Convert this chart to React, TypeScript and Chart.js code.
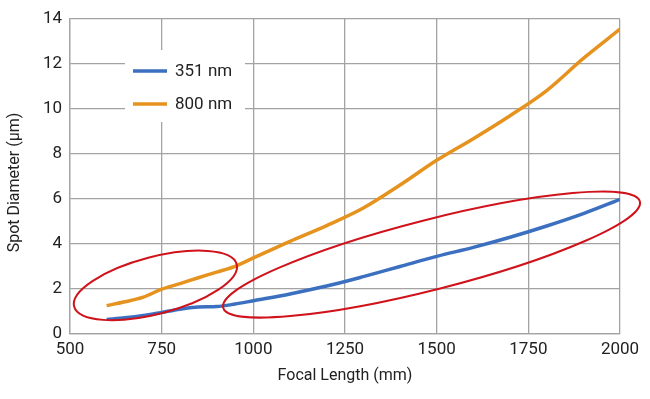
import { useEffect, useRef } from "react";
import { Chart, registerables } from "chart.js";

Chart.register(...registerables);

const focalLengths = [600, 650, 700, 750, 800, 850, 900, 950, 1000, 1100, 1200, 1300, 1400, 1500, 1600, 1700, 1800, 1900, 2000];
const spot351 = [0.65, 0.72, 0.82, 0.96, 1.1, 1.2, 1.22, 1.33, 1.48, 1.78, 2.13, 2.55, 3.0, 3.45, 3.85, 4.3, 4.8, 5.35, 5.98];
const spot800 = [1.26, 1.43, 1.64, 1.99, 2.24, 2.5, 2.75, 3.01, 3.38, 4.12, 4.82, 5.6, 6.62, 7.72, 8.68, 9.7, 10.82, 12.25, 13.55];
const seriesLabels = ["351 nm", "800 nm"];
const seriesColors = ["#3b6fbf", "#e6921e"];
const yAxisTitle = "Spot Diameter (µm)";
const xAxisTitle = "Focal Length (mm)";

// annotation ellipses: centre in data units, semi-axes in px, tilt in degrees
const ellipseCentersX = [733, 1486];
const ellipseCentersY = [2.16, 3.53];
const ellipseRadiiA = [84, 215];
const ellipseRadiiB = [28.5, 35];
const ellipseTilts = [14.6, 14.3];

const FONT = "Roboto, 'Liberation Sans', sans-serif";

const ellipsePlugin = {
  id: "ellipses",
  afterDatasetsDraw(chart: any) {
    const { ctx, scales } = chart;
    ctx.save();
    ctx.strokeStyle = "#d0121b";
    ctx.lineWidth = 2;
    for (let i = 0; i < ellipseCentersX.length; i++) {
      const cx = scales.x.getPixelForValue(ellipseCentersX[i]);
      const cy = scales.y.getPixelForValue(ellipseCentersY[i]);
      ctx.beginPath();
      ctx.ellipse(cx, cy, ellipseRadiiA[i], ellipseRadiiB[i], (-ellipseTilts[i] * Math.PI) / 180, 0, Math.PI * 2);
      ctx.stroke();
    }
    ctx.restore();
  },
};

const legendPlugin = {
  id: "innerLegend",
  afterDraw(chart: any) {
    const { ctx, chartArea } = chart;
    const left = chartArea.left + 55;
    const top = chartArea.top + 31;
    ctx.save();
    ctx.fillStyle = "#ffffff";
    ctx.fillRect(left, top, 120, 72);
    ctx.font = `17px ${FONT}`;
    ctx.textBaseline = "middle";
    ctx.textAlign = "left";
    chart.data.datasets.forEach((ds: any, i: number) => {
      const y = top + 21 + i * 33;
      ctx.strokeStyle = ds.borderColor;
      ctx.lineWidth = 3.5;
      ctx.beginPath();
      ctx.moveTo(left + 8, y);
      ctx.lineTo(left + 42, y);
      ctx.stroke();
      ctx.fillStyle = "#222";
      ctx.fillText(ds.label, left + 50, y + 1);
    });
    // y-axis title, slightly below the plot's centre as in the reference
    ctx.translate(15, (chartArea.top + chartArea.bottom) / 2 + 6);
    ctx.rotate(-Math.PI / 2);
    ctx.font = `16px ${FONT}`;
    ctx.textAlign = "center";
    ctx.fillStyle = "#222";
    ctx.fillText(yAxisTitle, 0, 0);
    ctx.restore();
  },
};

export default function App() {
  const ref = useRef<HTMLCanvasElement>(null);
  useEffect(() => {
    document.body.style.margin = "0";
    const makeData = (vals: number[]) => focalLengths.map((x, i) => ({ x, y: vals[i] }));
    const chart = new Chart(ref.current!, {
      type: "line",
      data: {
        datasets: [spot351, spot800].map((vals, i) => ({
          label: seriesLabels[i],
          data: makeData(vals),
          borderColor: seriesColors[i],
          backgroundColor: seriesColors[i],
          borderWidth: 3.5,
          pointRadius: 0,
          cubicInterpolationMode: "monotone" as const,
          fill: false,
        })),
      },
      options: {
        animation: false,
        responsive: false,
        maintainAspectRatio: false,
        layout: { padding: { top: 19, right: 30, left: 0, bottom: 0 } },
        plugins: { legend: { display: false }, tooltip: { enabled: false } },
        scales: {
          x: {
            type: "linear",
            min: 500,
            max: 2000,
            afterFit: (s: any) => { s.height = 65; },
            ticks: { stepSize: 250, color: "#222", font: { family: FONT, size: 17 }, padding: 6, maxRotation: 0, callback: (v: any) => String(v) },
            grid: { color: "#a3a3a3", lineWidth: 1.3, drawTicks: false },
            border: { color: "#a3a3a3", width: 1.3 },
            title: { display: true, text: xAxisTitle, color: "#222", font: { family: FONT, size: 16 }, padding: { top: 0, bottom: 13 } },
          },
          y: {
            min: 0,
            max: 14,
            afterFit: (s: any) => { s.width = 70; },
            ticks: { stepSize: 2, color: "#222", font: { family: FONT, size: 17 }, padding: 8, callback: (v: any) => String(v) },
            grid: { color: "#a3a3a3", lineWidth: 1.3, drawTicks: false },
            border: { color: "#a3a3a3", width: 1.3 },
            title: { display: false },
          },
        },
      },
      plugins: [ellipsePlugin, legendPlugin],
    });
    return () => chart.destroy();
  }, []);
  return (
    <div style={{ width: 650, height: 399 }}>
      <canvas ref={ref} width={650} height={399} style={{ display: "block" }} />
    </div>
  );
}
